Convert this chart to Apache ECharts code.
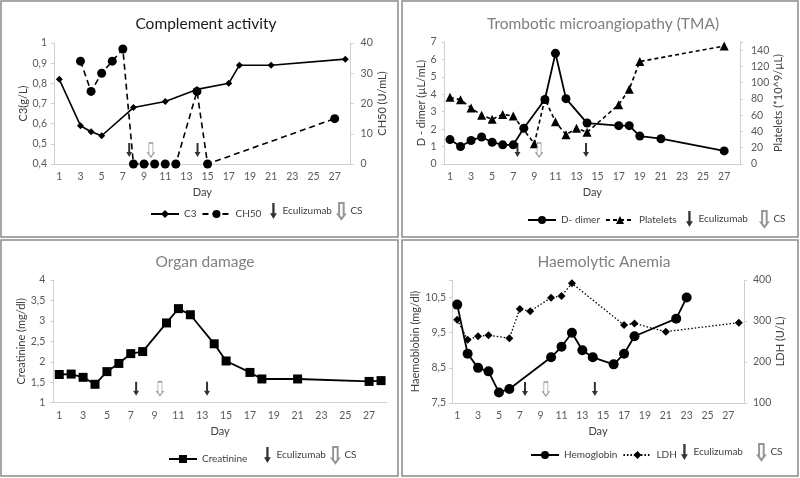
<!DOCTYPE html>
<html><head><meta charset="utf-8">
<script src="https://cdn.jsdelivr.net/npm/echarts@6/dist/echarts.min.js"></script>
<style>html,body{margin:0;padding:0;background:#fff}#c{width:800px;height:478px}</style>
</head><body><div id="c"></div>
<script>
// ---------- DATA ----------
const days = ['1','2','3','4','5','6','7','8','9','10','11','12','13','14','15','16','17','18','19','20','21','22','23','24','25','26','27','28'];

// Complement activity
const c3Days = [1,3,4,5,8,11,14,17,18,21,28];
const c3Vals = [0.82,0.59,0.56,0.54,0.68,0.71,0.77,0.80,0.89,0.89,0.92];
const ch50Days = [3,4,5,6,7,8,9,10,11,12,14,15,27];
const ch50Vals = [34,24,30,34,38,0,0,0,0,0,24,0,15];
const ecuP1 = [7.6,14.05];
const csP1 = [9.65];

// TMA
const ddDays = [1,2,3,4,5,6,7,8,10,11,12,14,17,18,19,21,27];
const ddVals = [1.4,1.0,1.35,1.55,1.25,1.1,1.1,2.05,3.7,6.35,3.75,2.35,2.2,2.2,1.6,1.45,0.75];
const pltDays = [1,2,3,4,5,6,7,9,10,11,12,13,14,17,18,19,27];
const pltVals = [82,79,69,60,55,61,59,25,80,52,36,44,39,73,92,126,145];
const ecuP2 = [7.4,13.9];
const csP2 = [9.45];

// Organ damage
const creaDays = [1,2,3,4,5,6,7,8,10,11,12,14,15,17,18,21,27,28];
const creaVals = [1.69,1.70,1.62,1.45,1.76,1.96,2.20,2.25,2.95,3.30,3.15,2.44,2.02,1.74,1.58,1.58,1.52,1.54];
const ecuP3 = [7.45,13.4];
const csP3 = [9.45];

// Haemolytic anemia
const hbDays = [1,2,3,4,5,6,10,11,12,13,14,16,17,18,22,23];
const hbVals = [10.3,8.9,8.5,8.4,7.8,7.9,8.8,9.1,9.5,9.0,8.8,8.6,8.9,9.4,9.9,10.5];
const ldhDays = [1,2,3,4,6,7,8,10,11,12,17,18,21,28];
const ldhVals = [303,254,263,265,258,329,324,357,361,392,290,294,274,296];
const ecuP4 = [7.5,14.2];
const csP4 = [9.5];

// ---------- STYLE ----------
const FONT = 'Lato';
const AXIS_COLOR = '#d0d0d0';
const LABEL_COLOR = '#595959';
const ARROW = 'path://M2,0 L4,0 L4,9 L6,9 L3,14 L0,9 L2,9 Z';
const HOLLOW = 'path://M1,0 L5,0 L5,10 L6,10 L3,14 L0,10 L1,10 Z';

function comma(v, d){ return String(+(+v).toFixed(d)).replace('.', ','); }
function pairs(ds, vs){ return ds.map((d,i)=>[String(d), vs[i]]); }

function catX(g){
  return {type:'category', gridIndex:g, data:days, boundaryGap:true,
    name:'Day', nameLocation:'middle', nameGap:23,
    nameTextStyle:{color:'#404040', fontSize:11, fontFamily:FONT},
    axisLine:{lineStyle:{color:AXIS_COLOR}},
    axisTick:{interval:0, length:3, lineStyle:{color:AXIS_COLOR}},
    axisLabel:{interval:1, color:LABEL_COLOR, fontSize:10.5, fontFamily:FONT, margin:7},
    splitLine:{show:false}};
}
function valX(g){ return {type:'value', gridIndex:g, min:0.5, max:28.5, show:false}; }
function yAx(g, pos, min, max, interval, name, nameGap, fmt, margin){
  return {type:'value', gridIndex:g, position:pos, min, max, interval,
    name, nameLocation:'middle', nameGap, nameRotate:90,
    nameTextStyle:{color:'#404040', fontSize:11, fontFamily:FONT},
    axisLine:{show:true, lineStyle:{color:AXIS_COLOR}},
    axisTick:{show:true, length:3, lineStyle:{color:AXIS_COLOR}},
    axisLabel:{color:LABEL_COLOR, fontSize:10.5, fontFamily:FONT, margin:margin, formatter:fmt, showMaxLabel:true},
    splitLine:{show:false}};
}
function lineS(name, xi, yi, data, symbol, size, type, width){
  return {type:'line', name, xAxisIndex:xi, yAxisIndex:yi, data, symbol, symbolSize:size,
    showSymbol:true, showAllSymbol:true, connectNulls:true, animation:false,
    lineStyle:{color:'#000', width:width, type:type},
    itemStyle:{color:'#000'}, z:3};
}
function arrowS(name, xi, yi, ds, yBase, hollow){
  return {type:'scatter', name, xAxisIndex:xi, yAxisIndex:yi,
    data: ds.map(d=>[d, yBase]), symbol: hollow ? HOLLOW : ARROW,
    symbolSize:[6,14], symbolOffset:[0,-14], animation:false, silent:true, z:6,
    itemStyle: hollow ? {color:'#fff', borderColor:'#7a7a7a', borderWidth:1} : {color:'#000'}};
}
function lineLegend(names, left, top){
  return {data:names, left, top, padding:0, itemWidth:28, itemHeight:10, itemGap:5, selectedMode:false,
    textStyle:{color:'#404040', fontSize:10, fontFamily:FONT}};
}
function arrowLegend(left, top, gap){
  return {data:['Eculizumab','CS'], left, top, padding:0, itemWidth:8, itemHeight:16, itemGap:gap, selectedMode:false,
    textStyle:{color:'#404040', fontSize:10, fontFamily:FONT}};
}

const titleStyle = (c)=>({color:c, fontSize:15.5, fontWeight:'normal', fontFamily:FONT});

const option = {
  backgroundColor:'#fff',
  animation:false,
  title:[
    {text:'Complement activity', left:201, top:11, textAlign:'center', textStyle:titleStyle('#1a1a1a')},
    {text:'Trombotic microangiopathy (TMA)', left:598, top:11, textAlign:'center', textStyle:titleStyle('#7f7f7f')},
    {text:'Organ damage', left:200, top:249, textAlign:'center', textStyle:titleStyle('#7f7f7f')},
    {text:'Haemolytic Anemia', left:599, top:249, textAlign:'center', textStyle:titleStyle('#7f7f7f')}
  ],
  grid:[
    {left:54, top:43, width:296.6, height:121},
    {left:444.7, top:42, width:295.3, height:122},
    {left:53.3, top:280, width:333.7, height:122.7},
    {left:452, top:280, width:292, height:123}
  ],
  xAxis:[catX(0), catX(1), catX(2), catX(3), valX(0), valX(1), valX(2), valX(3)],
  yAxis:[
    yAx(0,'left',0.4,1,0.1,'C3(g/L)',22,v=>comma(v,1),7),
    yAx(0,'right',0,40,10,'CH50 (U/mL)',21,v=>String(v),10),
    yAx(1,'left',0,7,1,'D - dimer (µL/mL)',18,v=>String(v),8),
    yAx(1,'right',0,150,20,'Platelets (*10^9/µL)',33,v=>(v%20===0?String(v):''),11),
    yAx(2,'left',1,4,0.5,'Creatinine (mg/dl)',22,v=>comma(v,1),8),
    yAx(3,'left',7.5,11,1,'Haemoblobin (mg/dl)',24,v=>(v>10.9?'':comma(v,1)),6),
    yAx(3,'right',100,400,100,'LDH (U/L)',31,v=>String(v),9)
  ],
  legend:[
    lineLegend(['C3','CH50'], 150, 209),
    arrowLegend(270, 202, 5),
    lineLegend(['D- dimer','Platelets'], 527, 215),
    arrowLegend(686, 210, 12),
    lineLegend(['Creatinine'], 168, 454),
    arrowLegend(264, 446, 5),
    lineLegend(['Hemoglobin','LDH'], 530, 450),
    arrowLegend(681, 443, 14)
  ],
  series:[
    lineS('C3',0,0,pairs(c3Days,c3Vals),'diamond',7,'solid',1.6),
    lineS('CH50',0,1,pairs(ch50Days,ch50Vals),'circle',9,[6,4],1.6),
    arrowS('Eculizumab',4,0,ecuP1,0.4,false),
    arrowS('CS',4,0,csP1,0.4,true),

    lineS('D- dimer',1,2,pairs(ddDays,ddVals),'circle',9,'solid',1.8),
    lineS('Platelets',1,3,pairs(pltDays,pltVals),'triangle',9,[4,3],1.6),
    arrowS('Eculizumab',5,2,ecuP2,0,false),
    arrowS('CS',5,2,csP2,0,true),

    lineS('Creatinine',2,4,pairs(creaDays,creaVals),'rect',9,'solid',1.8),
    arrowS('Eculizumab',6,4,ecuP3,1,false),
    arrowS('CS',6,4,csP3,1,true),

    lineS('Hemoglobin',3,5,pairs(hbDays,hbVals),'circle',10,'solid',1.8),
    lineS('LDH',3,6,pairs(ldhDays,ldhVals),'diamond',8,[1.5,2],1.3),
    arrowS('Eculizumab',7,5,ecuP4,7.5,false),
    arrowS('CS',7,5,csP4,7.5,true)
  ],
  graphic:[
    {type:'rect', shape:{x:1,y:1,width:397,height:236}, style:{fill:'none', stroke:'#8a8a8a', lineWidth:1.5}, silent:true},
    {type:'rect', shape:{x:402,y:1,width:396,height:236}, style:{fill:'none', stroke:'#8a8a8a', lineWidth:1.5}, silent:true},
    {type:'rect', shape:{x:1,y:240,width:397,height:236}, style:{fill:'none', stroke:'#8a8a8a', lineWidth:1.5}, silent:true},
    {type:'rect', shape:{x:402,y:240,width:396,height:236}, style:{fill:'none', stroke:'#8a8a8a', lineWidth:1.5}, silent:true}
  ]
};

const chart = echarts.init(document.getElementById('c'), null, {renderer:'canvas'});
chart.setOption(option);
</script>
</body></html>
